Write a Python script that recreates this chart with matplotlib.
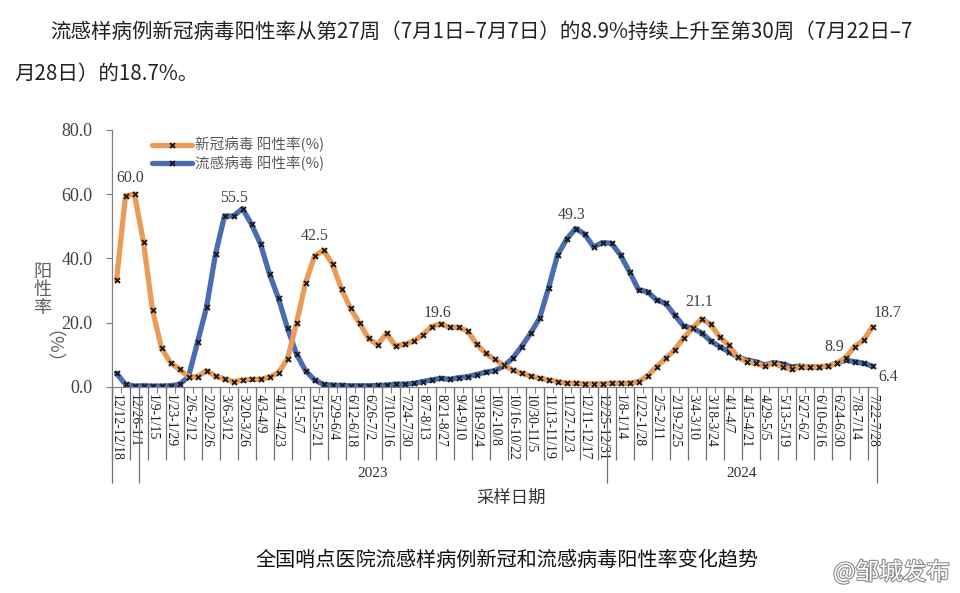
import matplotlib
matplotlib.use("Agg")
import matplotlib.pyplot as plt
import matplotlib.patheffects as pe

# ---------------- data ----------------
weeks = list(range(85))  # weekly points, 2022-12-12 ... 2024-07-22

tick_labels = ["12/12-12/18", "12/26-1/1", "1/9-1/15", "1/23-1/29", "2/6-2/12", "2/20-2/26",
               "3/6-3/12", "3/20-3/26", "4/3-4/9", "4/17-4/23", "5/1-5/7", "5/15-5/21",
               "5/29-6/4", "6/12-6/18", "6/26-7/2", "7/10-7/16", "7/24-7/30", "8/7-8/13",
               "8/21-8/27", "9/4-9/10", "9/18-9/24", "10/2-10/8", "10/16-10/22", "10/30-11/5",
               "11/13-11/19", "11/27-12/3", "12/11-12/17", "12/25-12/31", "1/8-1/14",
               "1/22-1/28", "2/5-2/11", "2/19-2/25", "3/4-3/10", "3/18-3/24", "4/1-4/7",
               "4/15-4/21", "4/29-5/5", "5/13-5/19", "5/27-6/2", "6/10-6/16", "6/24-6/30",
               "7/8-7/14", "7/22-7/28"]

covid = [33.2, 59.5, 60.0, 45.0, 23.9, 12.0, 7.5, 5.4, 3.1, 3.1,
         5.0, 3.3, 2.4, 1.6, 2.0, 2.3, 2.3, 3.0, 4.4, 8.6,
         19.8, 32.3, 40.7, 42.5, 38.2, 30.4, 24.4, 19.8, 15.1, 13.0,
         16.6, 12.7, 13.2, 14.2, 16.1, 18.7, 19.6, 18.5, 18.5, 17.4,
         13.3, 10.4, 8.5, 6.8, 5.2, 4.2, 3.3, 2.6, 2.1, 1.6,
         1.1, 1.1, 0.9, 0.9, 0.9, 1.1, 1.1, 1.1, 1.6, 3.3,
         6.2, 8.8, 11.4, 15.1, 18.2, 21.1, 19.5, 15.6, 13.0, 9.3,
         7.8, 7.3, 6.4, 7.3, 6.2, 5.4, 6.2, 6.2, 6.2, 6.4,
         7.3, 8.9, 12.5, 14.5, 18.7]

flu = [4.2, 0.7, 0.2, 0.3, 0.2, 0.2, 0.3, 0.7, 3.1, 13.8,
       24.7, 41.3, 53.2, 53.2, 55.5, 50.6, 44.5, 35.1, 27.5, 18.2,
       10.2, 5.0, 2.1, 0.7, 0.5, 0.4, 0.3, 0.3, 0.3, 0.4,
       0.5, 0.8, 0.8, 1.0, 1.6, 2.1, 2.6, 2.3, 2.8, 3.1,
       3.8, 4.5, 5.0, 6.4, 8.8, 12.5, 16.6, 21.3, 30.7, 41.0,
       45.9, 49.3, 47.6, 43.6, 44.9, 44.7, 41.0, 35.8, 30.2, 29.6,
       27.0, 26.0, 22.4, 18.9, 18.2, 16.8, 14.3, 12.5, 10.9, 9.3,
       8.3, 7.8, 6.8, 7.5, 7.1, 6.2, 6.4, 6.0, 6.2, 6.4,
       7.3, 8.3, 7.8, 7.3, 6.4]

covid_label_idx = [2, 23, 36, 65, 81, 84]
flu_label_idx = [14, 51, 84]
years = ["2023", "2024"]
year_bounds = [2.5, 54.5, 84.5]

series_names = ["新冠病毒 阳性率(%)", "流感病毒 阳性率(%)"]

# ---------------- styling ----------------
CJK = ["Noto Sans CJK SC", "DejaVu Sans"]
SERIF = ["Liberation Serif", "DejaVu Serif"]
ORANGE = "#EA9B57"
BLUE = "#4A6CB3"
GREY = "#404040"

fig = plt.figure(figsize=(9.6, 5.93), dpi=100)
fig.patch.set_facecolor("white")

W, H = 960, 593
ax_l, ax_r, ax_t, ax_b = 112, 877, 130, 386.7
ax = fig.add_axes([ax_l / W, 1 - ax_b / H, (ax_r - ax_l) / W, (ax_b - ax_t) / H])

ax.plot(weeks, covid, color=ORANGE, lw=3.8, marker="x", ms=3.6, mec="#1a1a1a",
        mew=1.4, solid_joinstyle="round", solid_capstyle="round", label=series_names[0], zorder=3)
ax.plot(weeks, flu, color=BLUE, lw=3.8, marker="x", ms=3.6, mec="#1a1a1a",
        mew=1.4, solid_joinstyle="round", solid_capstyle="round", label=series_names[1], zorder=2)

ax.set_xlim(-0.5, 84.5)
ax.set_ylim(0, 80)
ax.set_yticks([0, 20, 40, 60, 80])
ax.set_yticklabels([f"{v:.1f}" for v in [0, 20, 40, 60, 80]], fontfamily=SERIF,
                   fontsize=13, color=GREY)
ax.tick_params(axis="y", direction="out", length=4, width=0.8, color="#808080", pad=10)

for s in ["top", "right"]:
    ax.spines[s].set_visible(False)
for s in ["left", "bottom"]:
    ax.spines[s].set_color("#808080")
    ax.spines[s].set_linewidth(0.9)

# x ticks
ax.set_xticks(list(range(0, 85, 2)))
ax.set_xticklabels(tick_labels, rotation=-90, fontfamily=SERIF, fontsize=9.8,
                   color="#202020", va="top", ha="center")
ax.tick_params(axis="x", which="major", length=0, pad=5)
ax.set_xticks([i - 0.5 for i in range(86)], minor=True)
ax.tick_params(axis="x", which="minor", length=4, width=0.8, color="#808080", direction="out")

trans = ax.get_xaxis_transform()
sep_short = [i - 0.5 for i in range(0, 86, 2)]
ax.vlines(sep_short, -0.285, 0, transform=trans, colors="#707070", lw=0.9, clip_on=False)
ax.vlines([-0.5] + year_bounds, -0.375, 0, transform=trans, colors="#707070", lw=0.9, clip_on=False)
for k, yr in enumerate(years):
    xc = (year_bounds[k] + year_bounds[k + 1]) / 2
    ax.text(xc, -0.34, yr, transform=trans, ha="center", va="center",
            fontfamily=SERIF, fontsize=11, color="#303030")

# data labels
def lab(idx, vals, dx, dy):
    ax.annotate(f"{vals[idx]:.1f}", (idx, vals[idx]), xytext=(dx, dy), textcoords="offset points",
                ha="center", va="center", fontfamily=SERIF, fontsize=11.5, color=GREY, zorder=5)

covid_offsets = [(-3, 12), (-6, 10), (-2, 8), (-2, 12), (-8, 8), (11, 10)]
flu_offsets = [(-6, 8), (-3, 10), (11, -8)]
for idx, off in zip(covid_label_idx, covid_offsets):
    lab(idx, covid, *off)
for idx, off in zip(flu_label_idx, flu_offsets):
    lab(idx, flu, *off)

leg = ax.legend(loc="upper left", bbox_to_anchor=(0.045, 0.995), frameon=False,
                prop={"family": CJK, "size": 10.5}, handlelength=2.7, labelspacing=0.2,
                handletextpad=0.2, borderaxespad=0)
for t in leg.get_texts():
    t.set_color("#595959")

# y axis title
fig.text(42 / W, 1 - 290 / H, "阳\n性\n率", ha="center", va="center", fontfamily=CJK,
         fontsize=13, color="#606060", linespacing=1.0)
fig.text(42 / W, 1 - 356 / H, "（%）", ha="center", va="center", fontfamily=CJK,
         fontsize=13, color="#606060", rotation=-90)

# x axis title
fig.text(511 / W, 1 - 498 / H, "采样日期", ha="center", va="center", fontfamily=CJK,
         fontsize=12.5, color="#333333")

# caption
fig.text(507 / W, 1 - 560 / H, "全国哨点医院流感样病例新冠和流感病毒阳性率变化趋势",
         ha="center", va="center", fontfamily=CJK, fontsize=14.5, color="#111111")

# header text
fig.text(50 / W, 1 - 32 / H,
         "流感样病例新冠病毒阳性率从第27周（7月1日–7月7日）的8.9%持续上升至第30周（7月22日–7",
         ha="left", va="center", fontfamily=CJK, fontsize=14.8, color="#222222")
fig.text(14 / W, 1 - 74 / H, "月28日）的18.7%。", ha="left", va="center",
         fontfamily=CJK, fontsize=14.8, color="#222222")

# watermark
fig.text(950 / W, 1 - 572 / H, "@邹城发布", ha="right", va="center", fontfamily=CJK,
         fontsize=17, color="white",
         path_effects=[pe.withStroke(linewidth=1.6, foreground="#8a8a8a")])

fig.savefig("out.png", dpi=100, facecolor="white")
